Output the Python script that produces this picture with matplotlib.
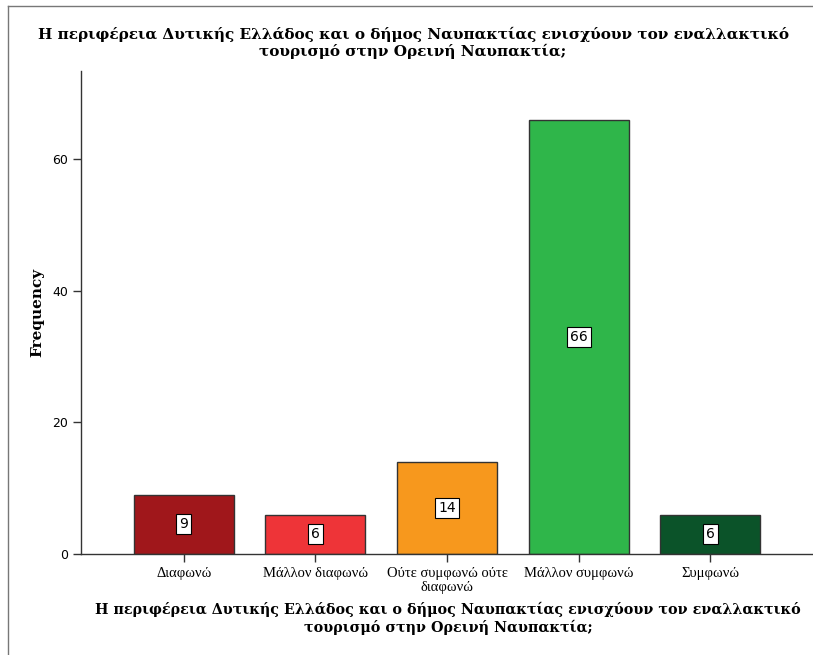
import matplotlib
matplotlib.use('Agg')
import matplotlib.pyplot as plt
from matplotlib.lines import Line2D

# data
categories = ['Διαφωνώ', 'Μάλλον διαφωνώ', 'Ούτε συμφωνώ ούτε\nδιαφωνώ',
              'Μάλλον συμφωνώ', 'Συμφωνώ']
counts = [9, 6, 14, 66, 6]
bar_colors = ['#A0171B', '#EE3438', '#F7981D', '#2FB64A', '#0B5329']
y_ticks = [0, 20, 40, 60]
title = ('Η περιφέρεια Δυτικής Ελλάδος και ο δήμος Ναυπακτίας ενισχύουν τον εναλλακτικό\n'
         'τουρισμό στην Ορεινή Ναυπακτία;')

fig = plt.figure(figsize=(8.13, 6.55), dpi=100)
ax = fig.add_axes([81/813, 1 - 554/655, (815 - 81)/813, (554 - 71)/655])

x = range(len(categories))
bars = ax.bar(x, counts, width=0.758, color=bar_colors, edgecolor='#333333', linewidth=1)

for i, v in enumerate(counts):
    ax.text(i, v / 2, str(v), ha='center', va='center', fontsize=10,
            family='DejaVu Sans',
            bbox=dict(boxstyle='square,pad=0.22', facecolor='white', edgecolor='black', linewidth=0.8))

ax.set_xlim(-0.78, 4.795)
ax.set_ylim(0, 73.4)
ax.set_yticks(y_ticks)
ax.set_yticklabels([str(t) for t in y_ticks], family='DejaVu Sans', fontsize=9)
ax.set_xticks(list(x))
ax.set_xticklabels(categories, family='Liberation Serif', fontsize=10.5, linespacing=1.15)
ax.tick_params(axis='both', direction='out', length=6, width=1, color='#333333')
ax.tick_params(axis='x', pad=3)

for s in ['top', 'right']:
    ax.spines[s].set_visible(False)
for s in ['left', 'bottom']:
    ax.spines[s].set_color('#333333')
    ax.spines[s].set_linewidth(1)

ax.set_ylabel('Frequency', family='DejaVu Serif', fontweight='bold', fontsize=11)
ax.yaxis.set_label_coords(-0.0504, 0.5)
ax.set_xlabel(title, family='DejaVu Serif', fontweight='bold', fontsize=10.3, linespacing=1.25)
ax.xaxis.set_label_coords(0.5, -0.099)

fig.text(413/813, 1 - 43/655, title, ha='center', va='center', family='DejaVu Serif',
         fontweight='bold', fontsize=11, linespacing=1.2)

# outer frame (left and top edges only)
fig.add_artist(Line2D([8/813, 8/813], [0, 1 - 6/655], transform=fig.transFigure,
                      color='#777777', linewidth=1))
fig.add_artist(Line2D([8/813, 1], [1 - 6/655, 1 - 6/655], transform=fig.transFigure,
                      color='#777777', linewidth=1))

fig.savefig('out.png', dpi=100)
